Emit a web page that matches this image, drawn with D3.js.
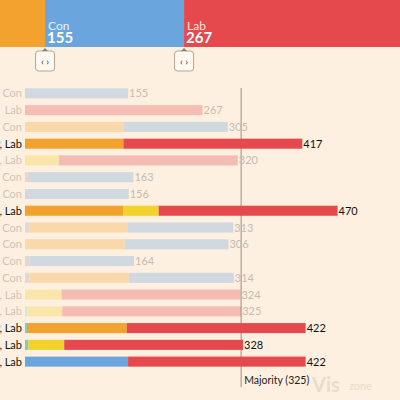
<!DOCTYPE html><html><head><meta charset="utf-8">
<script src="https://cdn.jsdelivr.net/npm/d3@7"></script>
<style>body{margin:0;background:#fdf0e0}svg{display:block;font-family:Lato,"Open Sans",sans-serif}</style></head><body>
<svg id="c" width="400" height="400"></svg>
<script>
const parties=["Other","Green","SNP","LD","Con","Lab"];
const colors={Other:"#a99fbd",SNP:"#f2a22e",LD:"#f2d22b",Green:"#7fcfc0",Con:"#6aa5dd",Lab:"#e5484d"};
const labels=["Con","Lab","SNP, Con","SNP, Lab","LD, Lab","Other, Con","Con","SNP, LD, Lab","Other, SNP, Con","SNP, Con","Other, Con","Other, SNP, Con","LD, Lab","Green, LD, Lab","Green, SNP, Lab","Green, LD, Lab","Con, Lab"];
const rows=[
{Con:155},{Lab:267},{SNP:148,Con:157},{SNP:148,Lab:269},{LD:51,Lab:269},
{Other:6,Con:157},{Con:156},{SNP:148,LD:53,Lab:269},{Other:6,SNP:148,Con:159},
{SNP:150,Con:156},{Other:7,Con:157},{Other:7,SNP:149,Con:158},{LD:55,Lab:269},
{Green:3,LD:53,Lab:269},{Green:3,SNP:150,Lab:269},{Green:5,LD:54,Lab:269},{Con:155,Lab:267}];
const highlight=[3,7,14,15,16];
const topBar=[["SNP",56],["Con",155],["Lab",267]];
const majority=325;

const svg=d3.select("#c");
const x=d3.scaleLinear().domain([0,500]).range([25,357.5]);
const y=d3.scaleBand().domain(d3.range(rows.length)).range([85,370]).paddingInner(0.4).paddingOuter(0.2);
const xt=d3.scaleLinear().domain([0,100]).range([-5.2,84.5]);

let c=0;
topBar.forEach(([p,v])=>{
  svg.append("rect").attr("x",xt(c)).attr("y",0).attr("width",xt(c+v)-xt(c)).attr("height",47).attr("fill",colors[p]);
  if(p!=="SNP"){
    svg.append("text").attr("x",xt(c)+3).attr("y",30).attr("fill","#fff").attr("opacity",0.85).attr("font-size",12).text(p);
    svg.append("text").attr("x",xt(c)+2).attr("y",43).attr("fill","#fff").attr("font-weight","bold").attr("font-size",15).text(v);
  }
  c+=v;
});
[56,211].forEach(v=>{
  const hx=xt(v);
  const g=svg.append("g").attr("transform",`translate(${hx-9.5},51)`);
  g.append("rect").attr("width",19).attr("height",20).attr("rx",3).attr("fill","#fff9f0").attr("stroke","#b0a598");
  g.append("path").attr("d","M6.5,0 L9.5,-3 L12.5,0Z").attr("fill","#8a8078");
  g.append("text").attr("x",9.5).attr("y",14).attr("text-anchor","middle").attr("font-size",10).attr("fill","#333").text("‹ ›");
});

svg.append("line").attr("x1",x(majority)).attr("x2",x(majority)).attr("y1",88).attr("y2",387).attr("stroke","#9a8f86");
svg.append("text").attr("x",x(majority)+3).attr("y",384).attr("font-size",10.5).attr("fill","#222").text("Majority (325)");

rows.forEach((r,i)=>{
  const hi=highlight.includes(i);
  const g=svg.append("g").attr("opacity",hi?1:0.3);
  let s=0;
  parties.forEach(p=>{ if(r[p]){
    g.append("rect").attr("x",x(s)).attr("y",y(i)).attr("width",x(s+r[p])-x(s)).attr("height",y.bandwidth()).attr("fill",colors[p]);
    s+=r[p];}});
  svg.append("text").attr("x",x(s)+1).attr("y",y(i)+y.bandwidth()/2+4).attr("font-size",11).attr("fill",hi?"#111":"#c4bbb2").text(s);
  svg.append("text").attr("x",22).attr("y",y(i)+y.bandwidth()/2+4).attr("text-anchor","end").attr("font-size",11).attr("fill",hi?"#111":"#cdc4bb").text(labels[i]);
});
svg.append("text").attr("x",312).attr("y",392).attr("font-size",20).attr("font-weight","bold").attr("fill","#e8dccb").text("Vis");
svg.append("text").attr("x",349).attr("y",390).attr("font-size",11).attr("fill","#e8dccb").text("zone");
</script></body></html>
